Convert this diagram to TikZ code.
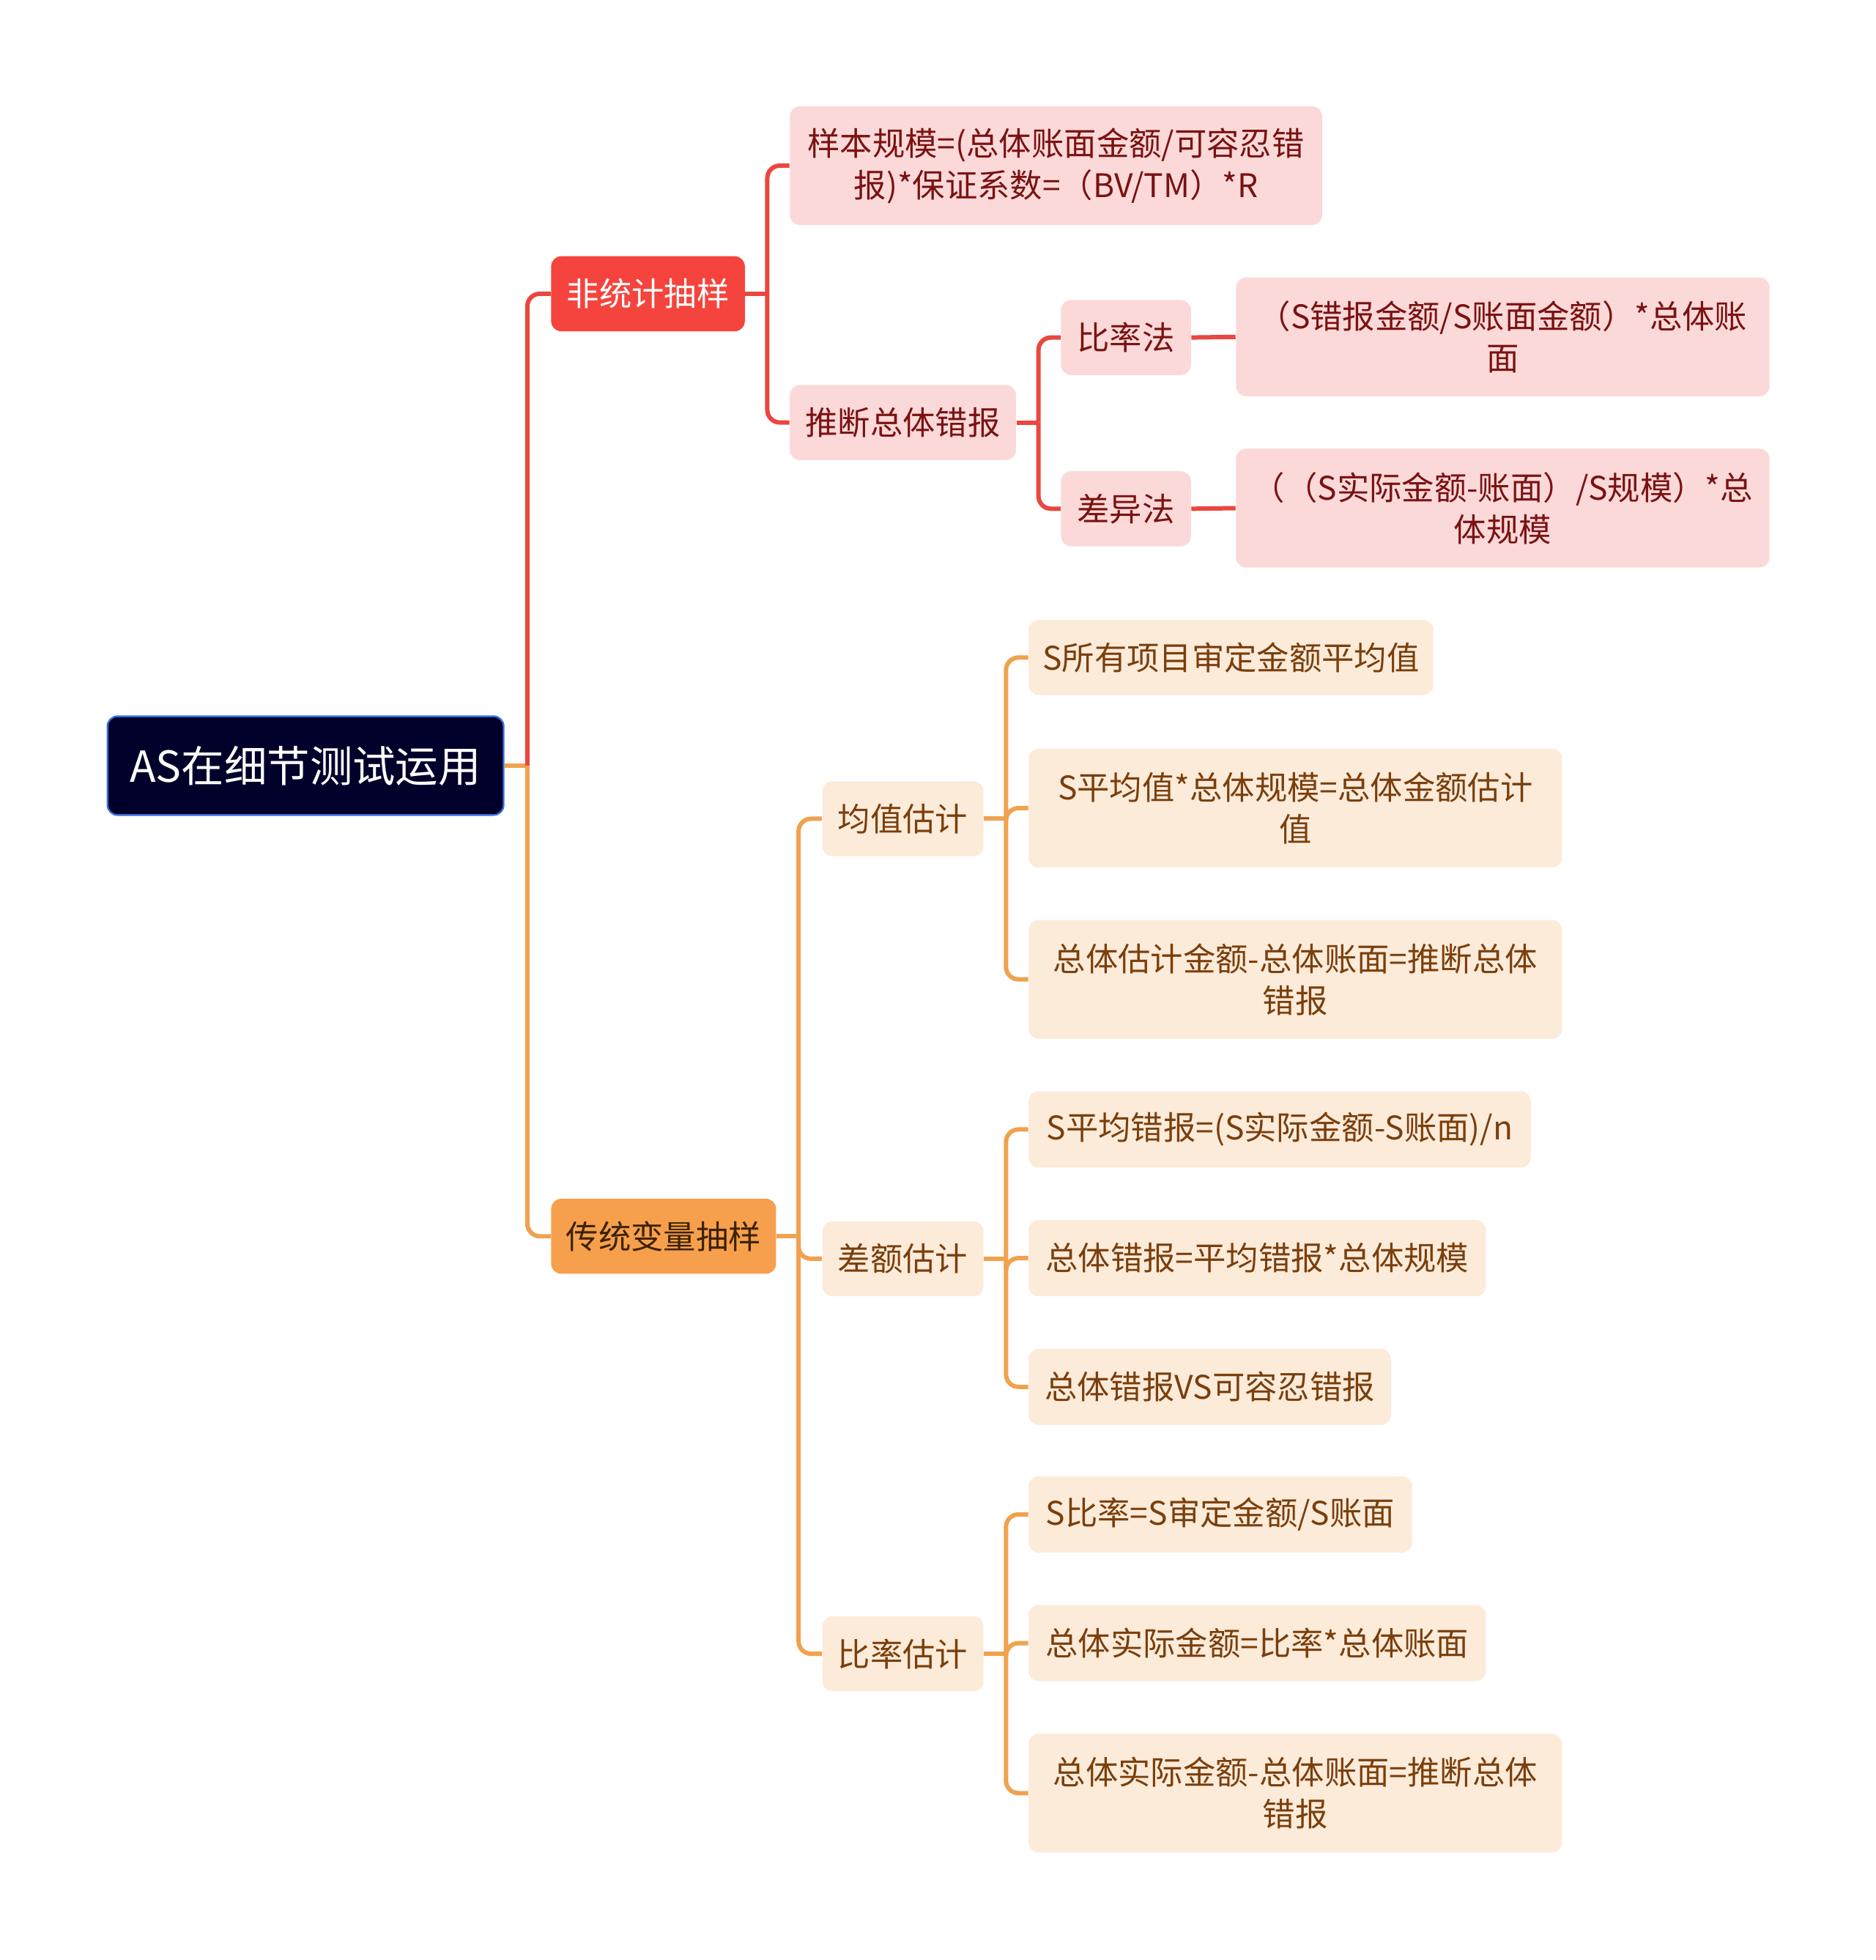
\documentclass[tikz,border=0pt]{standalone}
\usepackage{fontspec}
\setmainfont{Noto Sans CJK SC}
\definecolor{cRootFill}{HTML}{00002A}
\definecolor{cRootBorder}{HTML}{3B6FD8}
\definecolor{cRed}{HTML}{F5443D}
\definecolor{cRedLine}{HTML}{E9473F}
\definecolor{cPink}{HTML}{FCD9D9}
\definecolor{cRedText}{HTML}{7A1212}
\definecolor{cOrange}{HTML}{F6A04D}
\definecolor{cOrLine}{HTML}{F0A24E}
\definecolor{cBeige}{HTML}{FDEBDA}
\definecolor{cBrown}{HTML}{7A3F0C}
\definecolor{cOrText}{HTML}{3D2200}
\begin{document}
\begin{tikzpicture}[x=0.02cm,y=-0.02cm,
  base/.style={rounded corners=0.16cm, inner sep=0pt, align=center, font=\fontsize{14.8}{19}\selectfont},
  rootbox/.style={base, fill=cRootFill, draw=cRootBorder, line width=0.8pt, text=white, font=\fontsize{19.5}{24}\selectfont},
  redmainbox/.style={base, fill=cRed, text=white},
  redleaf/.style={base, fill=cPink, text=cRedText},
  ormainbox/.style={base, fill=cOrange, text=cOrText},
  orleaf/.style={base, fill=cBeige, text=cBrown},
  rl/.style={draw=cRedLine, line width=2pt, rounded corners=0.2cm},
  ol/.style={draw=cOrLine, line width=2pt, rounded corners=0.2cm},
  sz/.style 2 args={minimum width=#1cm, minimum height=#2cm}]
\fill[white] (0,0) rectangle (1501,1568);
\useasboundingbox (0,0) rectangle (1501,1568);

% nodes
\node[rootbox, sz={6.34}{1.58}] (root) at (244.5,612.5) {AS在细节测试运用};
\node[redmainbox, sz={3.1}{1.2}] (n1) at (518.5,235) {非统计抽样};
\node[redleaf, sz={8.52}{1.9}] (a1) at (845,132.5) {样本规模=(总体账面金额/可容忍错\\报)*保证系数=（BV/TM）*R};
\node[redleaf, sz={3.62}{1.2}] (a2) at (722.5,338) {推断总体错报};
\node[redleaf, sz={2.08}{1.2}] (b1) at (901,270) {比率法};
\node[redleaf, sz={2.08}{1.2}] (b2) at (901,407) {差异法};
\node[redleaf, sz={8.54}{1.9}] (c1) at (1202.5,269.5) {（S错报金额/S账面金额）*总体账\\面};
\node[redleaf, sz={8.54}{1.9}] (c2) at (1202.5,406.5) {（（S实际金额-账面）/S规模）*总\\体规模};

\node[ormainbox, sz={3.6}{1.2}] (n2) at (531,989) {传统变量抽样};
\node[orleaf, sz={2.58}{1.2}] (m1) at (722.5,655) {均值估计};
\node[orleaf, sz={2.58}{1.2}] (m2) at (722.5,1007) {差额估计};
\node[orleaf, sz={2.58}{1.2}] (m3) at (722.5,1323) {比率估计};
\node[orleaf, sz={6.48}{1.2}] (p1) at (985,526) {S所有项目审定金额平均值};
\node[orleaf, sz={8.54}{1.9}] (p2) at (1036.5,646.5) {S平均值*总体规模=总体金额估计\\值};
\node[orleaf, sz={8.54}{1.9}] (p3) at (1036.5,783.5) {总体估计金额-总体账面=推断总体\\错报};
\node[orleaf, sz={8.04}{1.22}] (q1) at (1024,903.5) {S平均错报=(S实际金额-S账面)/n};
\node[orleaf, sz={7.32}{1.22}] (q2) at (1006,1006.5) {总体错报=平均错报*总体规模};
\node[orleaf, sz={5.8}{1.22}] (q3) at (968,1109.5) {总体错报VS可容忍错报};
\node[orleaf, sz={6.14}{1.22}] (r1) at (976.5,1211.5) {S比率=S审定金额/S账面};
\node[orleaf, sz={7.32}{1.22}] (r2) at (1006,1314.5) {总体实际金额=比率*总体账面};
\node[orleaf, sz={8.54}{1.9}] (r3) at (1036.5,1434.5) {总体实际金额-总体账面=推断总体\\错报};

% junctions
\coordinate (j0) at (422,612.5);
\coordinate (j1) at (614,235);
\coordinate (j2) at (831,338);
\coordinate (j3) at (639,989);
\coordinate (j4) at (805,655);
\coordinate (j5) at (805,1007);
\coordinate (j6) at (805,1323);

% connectors
\draw[ol] (root.east) -- (j0);
\draw[rl] (j0) |- (n1.west);
\draw[ol] (j0) |- (n2.west);

\draw[rl] (n1.east) -- (j1);
\draw[rl] (j1) |- (a1.west);
\draw[rl] (j1) |- (a2.west);
\draw[rl] (a2.east) -- (j2);
\draw[rl] (j2) |- (b1.west);
\draw[rl] (j2) |- (b2.west);
\draw[rl] (b1.east) -- (c1.west);
\draw[rl] (b2.east) -- (c2.west);

\draw[ol] (n2.east) -- (j3);
\draw[ol] (j3) |- (m1.west);
\draw[ol] (j3) |- (m2.west);
\draw[ol] (j3) |- (m3.west);
\draw[ol] (m1.east) -- (j4);
\draw[ol] (j4) |- (p1.west);
\draw[ol] (j4) |- (p2.west);
\draw[ol] (j4) |- (p3.west);
\draw[ol] (m2.east) -- (j5);
\draw[ol] (j5) |- (q1.west);
\draw[ol] (j5) |- (q2.west);
\draw[ol] (j5) |- (q3.west);
\draw[ol] (m3.east) -- (j6);
\draw[ol] (j6) |- (r1.west);
\draw[ol] (j6) |- (r2.west);
\draw[ol] (j6) |- (r3.west);
\end{tikzpicture}
\end{document}
